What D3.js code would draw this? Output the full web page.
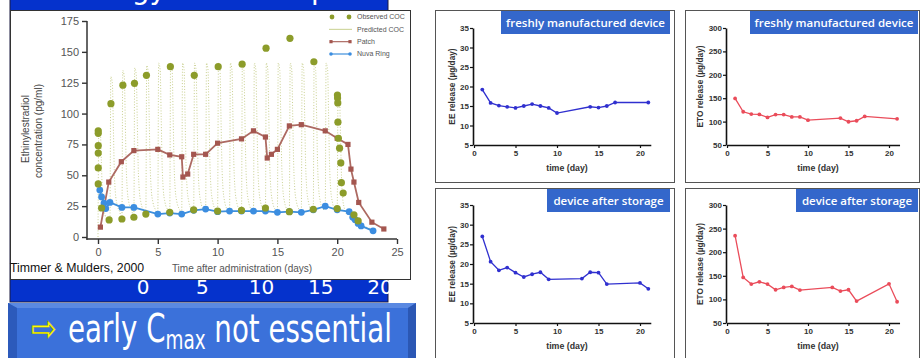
<!DOCTYPE html>
<html>
<head>
<meta charset="utf-8">
<script src="https://cdn.jsdelivr.net/npm/d3@7"></script>
<style>
html, body { margin: 0; padding: 0; background: #fff; }
svg { display: block; }
</style>
</head>
<body>
<svg id="chart" width="920" height="358"></svg>
<script>
// ---- left chart: EE concentration (Timmer & Mulders, 2000) ----
const obsDays = [0.02, 0.02, 0.02, 0.02, 0.02, 0.02, 0.3, 0.93, 1.08, 2, 2.08, 3, 3.05, 4, 4.05, 6, 6.05, 8, 8.05,
  10, 10.05, 12, 12.05, 14, 14.05, 16, 16.05, 18, 18.05, 20, 20.02, 20.03, 20.05, 20.06, 20.1, 20.2, 20.3, 20.35, 20.5, 21.4, 21.75];
const obsConc = [86, 84, 74, 68, 56, 43, 23.5, 13.8, 108, 14.6, 123, 16, 124.5, 18.6, 131, 20, 138, 22, 131,
  21, 138, 21.5, 140, 23.5, 153, 20.5, 161, 22.5, 142, 23, 115, 112.6, 108.6, 93, 80, 72, 60, 44, 35.6, 18, 13];

const predDoseDays = [0, 1, 2, 3, 4, 5, 6, 7, 8, 9, 10, 11, 12, 13, 14, 15, 16, 17, 18, 19, 20];
const predPeaks = [88, 130, 135, 137, 139, 141, 141, 141, 141, 141, 141, 141, 141, 141, 141, 141, 141, 141, 141, 141, 116];
const predTroughs = [0, 14, 15, 17, 18, 19, 20, 20, 21, 21, 21, 21, 21, 21, 22, 21, 21, 21, 22, 22, 22];
// shape of one dosing interval (offset in days, share of the peak)
const predOffsets = [0.07, 0.2, 0.28, 0.36, 0.45, 0.6, 0.8];
const predShare = [1, 0.96, 0.7, 0.42, 0.28, 0.2, 0.16];
const predTailDays = [21, 21.5, 22, 23];
const predTailConc = [18, 13, 10, 6];

const patchDays = [0.2, 0.9, 1.95, 3, 5, 6, 7, 7.1, 7.5, 8, 9, 10, 12, 13, 14, 14.15, 14.5, 15, 16, 17, 19, 20, 20.9, 21.15, 21.4, 21.8, 22.9, 23.9];
const patchConc = [8, 44.5, 61, 70, 71, 66.5, 65, 48.6, 51, 67, 67, 76, 79.5, 86, 81, 64, 67, 71, 90, 91, 86, 80, 75, 55, 44.5, 28, 12, 6.5];

const ringDays = [0.15, 0.3, 0.5, 0.65, 1, 2, 3, 5, 6, 7, 8, 9, 10, 11, 12, 13, 14, 15, 16, 17, 18, 19, 20, 21, 21.3, 21.5, 21.75, 22, 23];
const ringConc = [38, 32.5, 27.5, 23, 28, 24, 24, 18.6, 19.4, 18.6, 21.6, 22.6, 20.5, 21, 21, 21, 21, 20, 20.5, 20, 22, 25, 22, 20.5, 16, 14, 11, 9, 5];

const concTicks = [0, 25, 50, 75, 100, 125, 150, 175];
const timeTicks = [0, 5, 10, 15, 20, 25];
const legendLabels = ['Observed COC', 'Predicted COC', 'Patch', 'Nuva Ring'];
const slideDayLabels = ['0', '5', '10', '15', '20'];

// ---- right panels: release per day ----
const freshDays = [1, 2, 3, 4, 5, 6, 7, 8, 9, 10, 14, 15, 16, 17, 21];
const eeFresh = [19.2, 15.8, 15.1, 14.8, 14.5, 15.0, 15.5, 15.0, 14.5, 13.2, 14.8, 14.6, 15.0, 15.9, 15.9];
const etoFresh = [149.6, 121, 116, 115.4, 109, 115, 115, 110, 110, 103, 107.5, 99.7, 101.8, 111, 106];
const storedDays = [1, 2, 3, 4, 5, 6, 7, 8, 9, 13, 14, 15, 16, 20, 21];
const eeStored = [27.0, 20.6, 18.4, 19.1, 17.8, 16.7, 17.4, 17.9, 16.1, 16.3, 17.9, 17.8, 14.9, 15.2, 13.7];
const etoStored = [235, 146.5, 132.4, 137.3, 132.4, 120.4, 125.4, 127.5, 119.7, 125.4, 117.6, 120.4, 96.5, 133, 95];
const eeTicks = [5, 10, 15, 20, 25, 30, 35];
const etoTicks = [50, 100, 150, 200, 250, 300];
const dayTicks = [0, 5, 10, 15, 20];

const svg = d3.select('#chart');
const sans = 'Liberation Sans, Arial, sans-serif';

// ---------- slide background pieces ----------
svg.append('rect').attr('x', 10).attr('y', -2).attr('width', 378).attr('height', 304)
  .attr('fill', '#0532cc').attr('stroke', '#1a1a40').attr('stroke-width', 1);

// title words of the slide, cut off by the top edge (only the descenders show)
const clipTop = svg.append('defs').append('clipPath').attr('id', 'topclip');
clipTop.append('rect').attr('x', 10).attr('y', 0).attr('width', 378).attr('height', 10);
const topTitle = svg.append('g').attr('clip-path', 'url(#topclip)')
  .attr('font-family', 'DejaVu Sans, sans-serif').attr('font-size', 28).attr('fill', '#fff');
topTitle.append('text').attr('x', 166).attr('y', -1).attr('text-anchor', 'end').text('Pharmacology');
topTitle.append('text').attr('x', 311).attr('y', -1).text('plasma');

// day numbers visible on the blue strip under the image
const stripX = d3.scaleLinear().domain([0, 20]).range([143, 380]);
svg.append('g').selectAll('text').data(slideDayLabels).join('text')
  .attr('x', (d, i) => stripX(i * 5)).attr('y', 294).attr('text-anchor', 'middle')
  .attr('font-family', 'DejaVu Sans, sans-serif').attr('font-size', 20).attr('fill', '#fff')
  .text(d => d);

// white image box of the left chart
svg.append('rect').attr('x', 10.5).attr('y', 10.5).attr('width', 400).attr('height', 269)
  .attr('fill', '#fff').attr('stroke', '#333').attr('stroke-width', 1);

// ---------- left chart ----------
const xL = d3.scaleLinear().domain([0, 25]).range([98, 397]);
const yL = d3.scaleLinear().domain([0, 175]).range([237, 21]);
const left = svg.append('g');

// predicted COC (dotted saw-tooth)
const predPoints = [];
predDoseDays.forEach((d, i) => {
  predPoints.push([d, predTroughs[i]]);
  predOffsets.forEach((o, k) => predPoints.push([d + o, predPeaks[i] * predShare[k]]));
});
predTailDays.forEach((d, i) => predPoints.push([d, predTailConc[i]]));
left.append('path').datum(predPoints)
  .attr('fill', 'none').attr('stroke', '#c3cb85').attr('stroke-width', 0.9)
  .attr('stroke-dasharray', '1,1.8')
  .attr('d', d3.line().x(d => xL(d[0])).y(d => yL(d[1])).curve(d3.curveMonotoneX));

const lineL = d3.line().x(d => xL(d[0])).y(d => yL(d[1]));
const patchPts = patchDays.map((d, i) => [d, patchConc[i]]);
const ringPts = ringDays.map((d, i) => [d, ringConc[i]]);

left.append('path').datum(patchPts).attr('fill', 'none').attr('stroke', '#ad6a62').attr('stroke-width', 1.8).attr('d', lineL);
left.append('g').selectAll('rect').data(patchPts).join('rect')
  .attr('x', d => xL(d[0]) - 2.6).attr('y', d => yL(d[1]) - 2.6).attr('width', 5.2).attr('height', 5.2)
  .attr('fill', '#a4564f');

left.append('path').datum(ringPts).attr('fill', 'none').attr('stroke', '#3d8fdc').attr('stroke-width', 1.8).attr('d', lineL);
left.append('g').selectAll('circle').data(ringPts).join('circle')
  .attr('cx', d => xL(d[0])).attr('cy', d => yL(d[1])).attr('r', 3.4).attr('fill', '#3b8de0');

left.append('g').selectAll('circle').data(obsDays.map((d, i) => [d, obsConc[i]])).join('circle')
  .attr('cx', d => xL(d[0])).attr('cy', d => yL(d[1])).attr('r', 3.6).attr('fill', '#8c9c2a');

// axes
const yAxisL = left.append('g').attr('transform', 'translate(87,0)')
  .call(d3.axisLeft(yL).tickValues(concTicks).tickSize(5).tickPadding(3).tickSizeOuter(0));
const xAxisL = left.append('g').attr('transform', 'translate(0,239)')
  .call(d3.axisBottom(xL).tickValues(timeTicks).tickSize(5).tickPadding(4).tickSizeOuter(0));
[yAxisL, xAxisL].forEach(a => {
  a.select('.domain').remove();
  a.selectAll('line').attr('stroke', '#333').attr('stroke-width', 1.4);
  a.selectAll('text').attr('font-family', sans).attr('font-size', 11).attr('fill', '#555');
});
left.append('line').attr('x1', 87).attr('x2', 87).attr('y1', 21).attr('y2', 239.7).attr('stroke', '#333').attr('stroke-width', 1.5);
left.append('line').attr('x1', 86.3).attr('x2', 397).attr('y1', 239).attr('y2', 239).attr('stroke', '#333').attr('stroke-width', 1.5);

left.append('text').attr('transform', 'translate(25,129) rotate(-90)').attr('text-anchor', 'middle').attr('dy', '0.35em')
  .attr('font-family', sans).attr('font-size', 10).attr('fill', '#444').text('Ethinylestradiol');
left.append('text').attr('transform', 'translate(38,131) rotate(-90)').attr('text-anchor', 'middle').attr('dy', '0.35em')
  .attr('font-family', sans).attr('font-size', 10).attr('fill', '#444').text('concentration (pg/ml)');
left.append('text').attr('x', 242).attr('y', 272).attr('text-anchor', 'middle')
  .attr('font-family', sans).attr('font-size', 10).attr('fill', '#555').text('Time after administration (days)');
left.append('text').attr('x', 10).attr('y', 272)
  .attr('font-family', sans).attr('font-size', 12.3).attr('fill', '#111').text('Timmer & Mulders, 2000');

// legend
const leg = left.append('g').attr('font-family', sans).attr('font-size', 7).attr('fill', '#555');
const legY = d3.scaleLinear().domain([0, 3]).range([17, 54]);
leg.selectAll('text').data(legendLabels).join('text')
  .attr('x', 357).attr('y', (d, i) => legY(i)).attr('dy', '0.35em').text(d => d);
leg.selectAll('circle.obs').data([332, 349]).join('circle').attr('class', 'obs')
  .attr('cx', d => d).attr('cy', legY(0)).attr('r', 2.4).attr('fill', '#8c9c2a');
leg.append('line').attr('x1', 329).attr('x2', 352).attr('y1', legY(1)).attr('y2', legY(1))
  .attr('stroke', '#c8d090').attr('stroke-width', 1);
leg.append('line').attr('x1', 331).attr('x2', 350).attr('y1', legY(2)).attr('y2', legY(2)).attr('stroke', '#ad6a62').attr('stroke-width', 1.2);
leg.selectAll('rect').data([331, 350]).join('rect')
  .attr('x', d => d - 1.6).attr('y', legY(2) - 1.6).attr('width', 3.2).attr('height', 3.2).attr('fill', '#a4564f');
leg.append('line').attr('x1', 331).attr('x2', 350).attr('y1', legY(3)).attr('y2', legY(3)).attr('stroke', '#3d8fdc').attr('stroke-width', 1.2);
leg.selectAll('circle.ring').data([331, 350]).join('circle').attr('class', 'ring')
  .attr('cx', d => d).attr('cy', legY(3)).attr('r', 1.8).attr('fill', '#3b8de0');

// ---------- bevelled button ----------
const btn = svg.append('g');
btn.append('rect').attr('x', 8).attr('y', 303).attr('width', 408).attr('height', 60).attr('fill', '#3b71da');
btn.append('polygon').attr('points', '8,303 416,303 408,308 17,308').attr('fill', '#5a89e2');
btn.append('polygon').attr('points', '8,303 17,308 17,360 8,360').attr('fill', '#2c5abb');
btn.append('polygon').attr('points', '416,303 408,308 408,360 416,360').attr('fill', '#2b57b4');
const arrow = btn.append('text')
  .attr('font-family', 'DejaVu Sans, sans-serif').attr('font-size', 36).attr('fill', '#ffff00')
  .attr('stroke', '#8a8a00').attr('stroke-width', 0.3)
  .text('\u21E8');
const arrowW = arrow.node().getComputedTextLength();
arrow.attr('transform', `translate(31,341) scale(${26 / arrowW},1)`);
const btnText = btn.append('text').attr('font-family', 'DejaVu Sans, sans-serif').attr('font-size', 39).attr('fill', '#fff');
btnText.append('tspan').text('early C');
btnText.append('tspan').attr('font-size', 26).attr('dy', 7).text('max');
btnText.append('tspan').attr('dy', -7).text(' not essential');
const btnW = btnText.node().getComputedTextLength();
btnText.attr('transform', `translate(68,342) scale(${324 / btnW},1)`);

// ---------- right panels ----------
const panels = [
  { frame: [435, 10, 239, 172], x0: 474, dayPx: 8.3, yTop: 28, yBot: 145, label: 'freshly manufactured device', labelBox: [501, 11, 169, 23],
    days: freshDays, vals: eeFresh, ticks: eeTicks, dom: [5, 35], color: '#3030cf', yLab: 'EE release (\u00b5g/day)', yLabX: 452 },
  { frame: [685, 10, 234, 172], x0: 727, dayPx: 8.1, yTop: 28, yBot: 145, label: 'freshly manufactured device', labelBox: [750, 11, 168, 23],
    days: freshDays, vals: etoFresh, ticks: etoTicks, dom: [50, 300], color: '#ea4c5a', yLab: 'ETO release (\u00b5g/day)', yLabX: 700 },
  { frame: [435, 188, 239, 180], x0: 474, dayPx: 8.3, yTop: 205, yBot: 323, label: 'device after storage', labelBox: [547, 189, 123, 23],
    days: storedDays, vals: eeStored, ticks: eeTicks, dom: [5, 35], color: '#3030cf', yLab: 'EE release (\u00b5g/day)', yLabX: 452 },
  { frame: [685, 188, 234, 180], x0: 727, dayPx: 8.1, yTop: 205, yBot: 323, label: 'device after storage', labelBox: [796, 189, 122, 23],
    days: storedDays, vals: etoStored, ticks: etoTicks, dom: [50, 300], color: '#ea4c5a', yLab: 'ETO release (\u00b5g/day)', yLabX: 700 }
];

panels.forEach(p => {
  const g = svg.append('g');
  g.append('rect').attr('x', p.frame[0] + 0.5).attr('y', p.frame[1] + 0.5).attr('width', p.frame[2]).attr('height', p.frame[3])
    .attr('fill', '#fff').attr('stroke', '#555').attr('stroke-width', 1);
  g.append('rect').attr('x', p.labelBox[0]).attr('y', p.labelBox[1]).attr('width', p.labelBox[2]).attr('height', p.labelBox[3])
    .attr('fill', '#3467cb');
  g.append('text').attr('x', p.labelBox[0] + p.labelBox[2] / 2).attr('y', p.labelBox[1] + p.labelBox[3] / 2)
    .attr('dy', '0.36em').attr('text-anchor', 'middle')
    .attr('font-family', 'Open Sans, sans-serif').attr('font-weight', 600).attr('font-size', 11.5).attr('fill', '#fff')
    .text(p.label);

  const x = d3.scaleLinear().domain([0, 21.3]).range([p.x0, p.x0 + 21.3 * p.dayPx]);
  const y = d3.scaleLinear().domain(p.dom).range([p.yBot, p.yTop]);

  const ya = g.append('g').attr('transform', `translate(${p.x0 - 1},0)`)
    .call(d3.axisLeft(y).tickValues(p.ticks).tickSize(3).tickPadding(1).tickSizeOuter(0));
  const xa = g.append('g').attr('transform', `translate(0,${p.yBot})`)
    .call(d3.axisBottom(x).tickValues(dayTicks).tickSize(3).tickPadding(2).tickSizeOuter(0));
  [ya, xa].forEach(a => {
    a.select('.domain').attr('stroke', '#111').attr('stroke-width', 1.6);
    a.selectAll('line').attr('stroke', '#111').attr('stroke-width', 1.2);
    a.selectAll('text').attr('font-family', sans).attr('font-weight', 'bold').attr('font-size', 8).attr('fill', '#333');
  });

  const pts = p.days.map((d, i) => [d, p.vals[i]]);
  g.append('path').datum(pts).attr('fill', 'none').attr('stroke', p.color).attr('stroke-width', 1.3)
    .attr('d', d3.line().x(d => x(d[0])).y(d => y(d[1])));
  g.append('g').selectAll('circle').data(pts).join('circle')
    .attr('cx', d => x(d[0])).attr('cy', d => y(d[1])).attr('r', 1.9).attr('fill', p.color);

  g.append('text').attr('transform', `translate(${p.yLabX},${(p.yTop + p.yBot) / 2}) rotate(-90)`)
    .attr('text-anchor', 'middle').attr('dy', '0.35em')
    .attr('font-family', sans).attr('font-weight', 'bold').attr('font-size', 8.3).attr('fill', '#333').text(p.yLab);
  g.append('text').attr('x', p.x0 + 10 * p.dayPx + 10).attr('y', p.yBot + 26).attr('text-anchor', 'middle')
    .attr('font-family', sans).attr('font-weight', 'bold').attr('font-size', 8.8).attr('fill', '#333').text('time (day)');
});
</script>
</body>
</html>
